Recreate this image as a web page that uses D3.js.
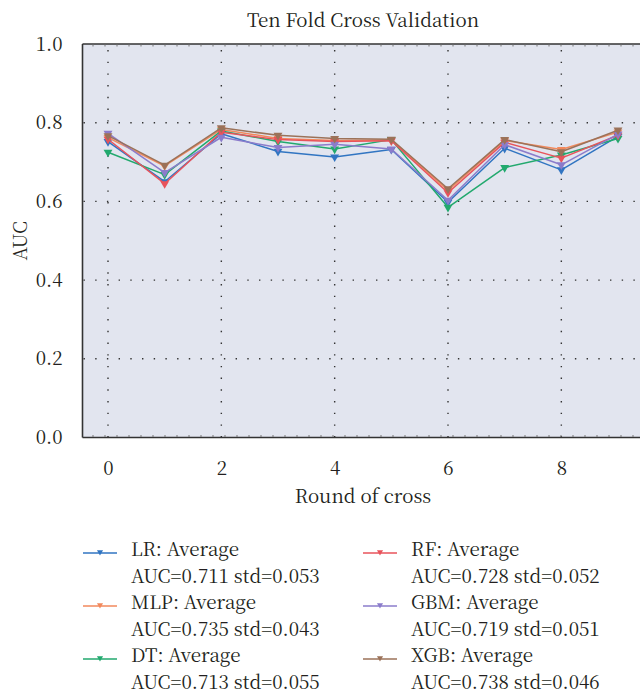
<!DOCTYPE html>
<html>
<head>
<meta charset="utf-8">
<script src="https://cdn.jsdelivr.net/npm/d3@7"></script>
<style>
  html, body { margin: 0; padding: 0; background: #ffffff; }
  svg { display: block; }
</style>
</head>
<body>
<svg id="chart" width="640" height="694"></svg>
<script>
// ---- data ----
const rounds = [0, 1, 2, 3, 4, 5, 6, 7, 8, 9];
const seriesNames = ["LR", "MLP", "DT", "RF", "GBM", "XGB"];
const lrValues  = [0.752, 0.650, 0.772, 0.727, 0.713, 0.732, 0.598, 0.735, 0.680, 0.765];
const mlpValues = [0.762, 0.690, 0.783, 0.760, 0.755, 0.756, 0.628, 0.755, 0.732, 0.776];
const dtValues  = [0.725, 0.668, 0.779, 0.752, 0.733, 0.757, 0.585, 0.686, 0.718, 0.760];
const rfValues  = [0.758, 0.645, 0.776, 0.757, 0.752, 0.754, 0.622, 0.750, 0.710, 0.768];
const gbmValues = [0.773, 0.673, 0.763, 0.737, 0.745, 0.733, 0.603, 0.744, 0.693, 0.771];
const xgbValues = [0.767, 0.692, 0.787, 0.768, 0.760, 0.758, 0.632, 0.757, 0.726, 0.781];
const averages  = ["0.711", "0.735", "0.713", "0.728", "0.719", "0.738"];
const stds      = ["0.053", "0.043", "0.055", "0.052", "0.051", "0.046"];
const xTicks = [0, 2, 4, 6, 8];
const yTicks = [0.0, 0.2, 0.4, 0.6, 0.8, 1.0];
const titleText = "Ten Fold Cross Validation";
const xLabel = "Round of cross";
const yLabel = "AUC";

const valuesBySeries = [lrValues, mlpValues, dtValues, rfValues, gbmValues, xgbValues];
const colors = ["#3175c2", "#f2895c", "#22a96e", "#e8535b", "#8b7ccb", "#9b7259"];

const FONT = '"Noto Serif CJK SC", "Liberation Serif", serif';
const TEXT_COLOR = "#231f20";
const FS = 18.8;

// ---- layout ----
const svg = d3.select("#chart");
const plot = { left: 82.5, right: 643.5, top: 44, bottom: 437.5 };

const x = d3.scaleLinear().domain([-0.45, 9.45]).range([plot.left, plot.right]);
const y = d3.scaleLinear().domain([0, 1]).range([plot.bottom, plot.top]);

// background
svg.append("rect")
  .attr("x", plot.left).attr("y", plot.top)
  .attr("width", plot.right - plot.left).attr("height", plot.bottom - plot.top)
  .attr("fill", "#e2e5ef");

// dotted grid
const grid = svg.append("g").attr("stroke", "#333").attr("stroke-width", 1.4)
  .attr("stroke-dasharray", "1.4,10.3");
grid.selectAll("line.v").data(xTicks).enter().append("line")
  .attr("x1", d => x(d)).attr("x2", d => x(d))
  .attr("y1", plot.top + 6).attr("y2", plot.bottom);
grid.selectAll("line.h").data(yTicks.filter(d => d > 0 && d < 1)).enter().append("line")
  .attr("y1", d => y(d)).attr("y2", d => y(d))
  .attr("x1", plot.left + 1).attr("x2", plot.right);

// frame: left, top, bottom
const frame = svg.append("g").attr("stroke", "#333").attr("stroke-width", 1.6).attr("fill", "none");
frame.append("line").attr("x1", plot.left).attr("x2", plot.left).attr("y1", plot.top).attr("y2", plot.bottom);
frame.append("line").attr("x1", plot.left).attr("x2", plot.right).attr("y1", plot.top).attr("y2", plot.top);
frame.append("line").attr("x1", plot.left).attr("x2", plot.right).attr("y1", plot.bottom).attr("y2", plot.bottom);
// small inward minor ticks along top and bottom
const minor = svg.append("g").attr("stroke", "#777").attr("stroke-width", 2)
  .attr("stroke-dasharray", "1,11");
minor.append("line").attr("x1", plot.left + 10).attr("x2", plot.right).attr("y1", plot.top + 1.5).attr("y2", plot.top + 1.5);
minor.append("line").attr("x1", plot.left + 10).attr("x2", plot.right).attr("y1", plot.bottom - 1.5).attr("y2", plot.bottom - 1.5);

function styleText(sel, size) {
  sel.style("font-family", FONT).style("font-size", size + "px").style("fill", TEXT_COLOR)
     .attr("font-family", FONT).attr("font-size", size).attr("fill", TEXT_COLOR);
}

// axes (labels only)
const xAxis = d3.axisBottom(x).tickValues(xTicks).tickFormat(d3.format("d")).tickSize(0).tickPadding(24);
const gx = svg.append("g").attr("transform", `translate(0,${plot.bottom})`).call(xAxis);
gx.select(".domain").remove();
gx.attr("font-family", FONT).attr("font-size", FS);
styleText(gx.selectAll("text"), FS);

const yAxis = d3.axisLeft(y).tickValues(yTicks).tickFormat(d3.format(".1f")).tickSize(0).tickPadding(20);
const gy = svg.append("g").attr("transform", `translate(${plot.left},0)`).call(yAxis);
gy.select(".domain").remove();
gy.attr("font-family", FONT).attr("font-size", FS);
styleText(gy.selectAll("text"), FS);

// title and axis labels
styleText(svg.append("text").attr("x", (plot.left + plot.right) / 2).attr("y", 27)
  .attr("text-anchor", "middle").text(titleText), FS);
styleText(svg.append("text").attr("x", (plot.left + plot.right) / 2).attr("y", 503)
  .attr("text-anchor", "middle").text(xLabel), FS);
styleText(svg.append("text").attr("transform", `translate(27,${(plot.top + plot.bottom) / 2}) rotate(-90)`)
  .attr("text-anchor", "middle").text(yLabel), FS);

// series
const tri = d3.symbol().type(d3.symbolTriangle).size(34);
const triSmall = d3.symbol().type(d3.symbolTriangle).size(16);
const line = d3.line().x((d, i) => x(rounds[i])).y(d => y(d));

valuesBySeries.forEach((vals, s) => {
  const g = svg.append("g");
  g.append("path").datum(vals).attr("d", line)
    .attr("fill", "none").attr("stroke", colors[s]).attr("stroke-width", 1.5).attr("stroke-linejoin", "round");
  g.selectAll("path.m").data(vals).enter().append("path")
    .attr("d", tri)
    .attr("transform", (d, i) => `translate(${x(rounds[i])},${y(d)}) rotate(180)`)
    .attr("fill", colors[s]);
});

// legend
const legendCols = [83, 363];
const legendRowY = [553, 606, 659];
seriesNames.forEach((name, i) => {
  const col = Math.floor(i / 3), row = i % 3;
  const lx = legendCols[col], ly = legendRowY[row];
  const g = svg.append("g").attr("transform", `translate(${lx},${ly})`);
  g.append("line").attr("x1", 0).attr("x2", 34).attr("y1", 0).attr("y2", 0)
    .attr("stroke", colors[i]).attr("stroke-width", 1.5);
  g.append("path").attr("d", triSmall).attr("transform", "translate(17,-1) rotate(180)").attr("fill", colors[i]);
  styleText(g.append("text").attr("x", 48).attr("y", 3).text(`${name}: Average`), FS);
  styleText(g.append("text").attr("x", 48).attr("y", 30).text(`AUC=${averages[i]} std=${stds[i]}`), FS);
});
</script>
</body>
</html>
